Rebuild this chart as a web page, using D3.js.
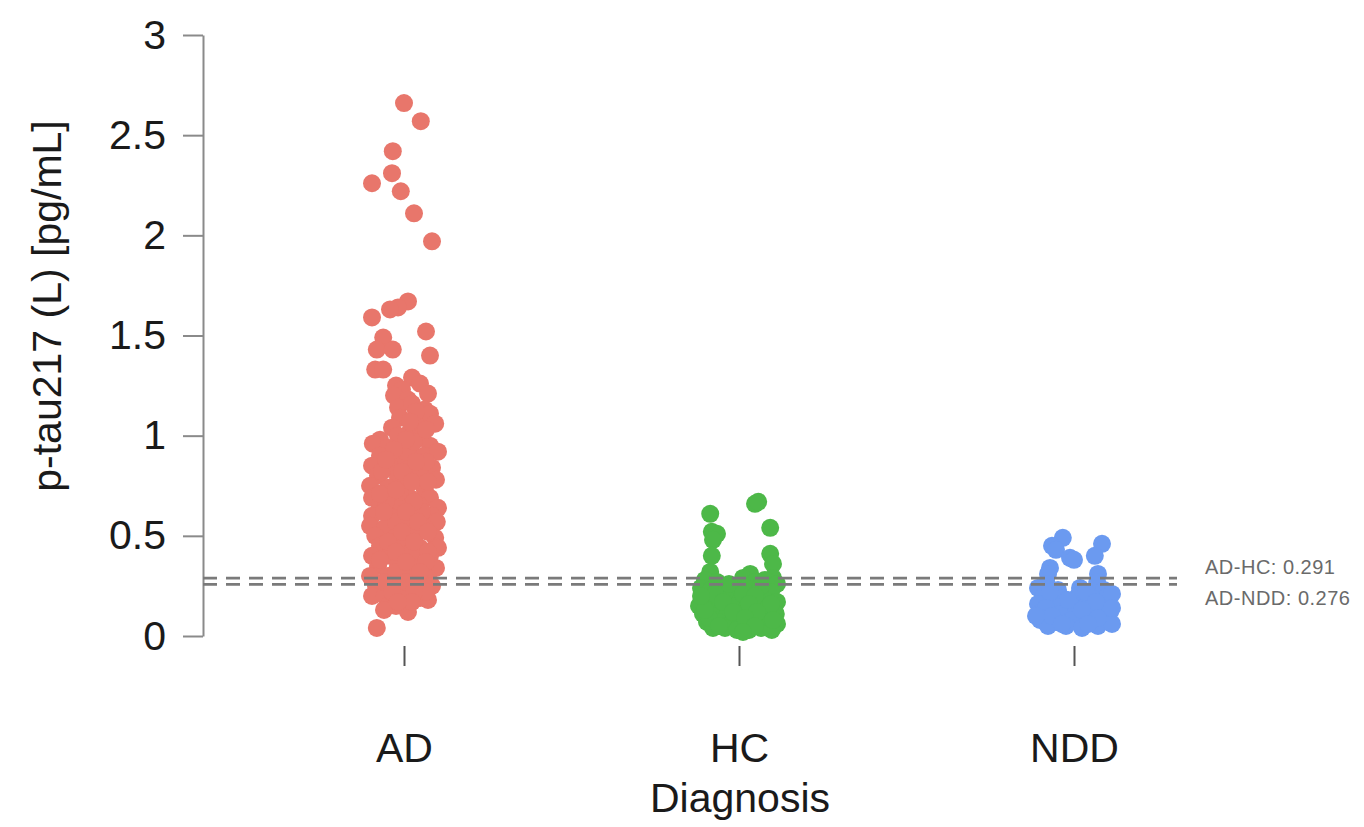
<!DOCTYPE html>
<html>
<head>
<meta charset="utf-8">
<script src="https://cdn.jsdelivr.net/npm/d3@7"></script>
<style>
  body { margin: 0; background: #fff; }
  text { font-family: "Liberation Sans", Arial, sans-serif; }
</style>
</head>
<body>
<div id="chart"></div>
<script>
// p-tau217 by diagnosis, jittered strip chart with two cutoff lines

const categories = ["AD", "HC", "NDD"];
const yTicks = [0, 0.5, 1, 1.5, 2, 2.5, 3];
const yTickLabels = ["0", "0.5", "1", "1.5", "2", "2.5", "3"];

// measured values and horizontal jitter (-1..1 of the strip half width)
const adValues = [2.66, 2.57, 2.42, 2.31, 2.26, 2.22, 2.11, 1.97, 1.67, 1.64, 1.63, 1.59, 1.52, 1.49, 1.43, 1.43, 1.40,
    1.33, 1.33, 1.29, 1.25, 1.23, 1.26, 1.20, 1.18, 1.21, 1.14, 1.16, 1.13, 1.09, 1.08, 1.11, 1.06, 1.04, 1.02, 1.00,
    0.98, 0.99, 0.96, 0.94, 0.94, 0.95, 0.90, 0.89, 0.90, 0.92, 0.85, 0.84, 0.85, 0.84, 0.80, 0.79, 0.80, 0.78,
    0.75, 0.74, 0.75, 0.73, 0.69, 0.70, 0.69, 0.69, 0.65, 0.64, 0.65, 0.64, 0.60, 0.59, 0.60, 0.60, 0.57,
    0.55, 0.54, 0.55, 0.54, 0.50, 0.49, 0.50, 0.49, 0.45, 0.45, 0.44, 0.44, 0.40, 0.40, 0.39, 0.40,
    0.35, 0.35, 0.35, 0.34, 0.30, 0.30, 0.30, 0.29, 0.25, 0.25, 0.24, 0.25, 0.20, 0.20, 0.21, 0.19,
    0.16, 0.15, 0.15, 0.12, 0.13, 0.18, 0.04,
    0.92, 0.82, 0.72, 0.62, 0.47, 0.38, 0.28, 0.22, 1.12, 0.97, 0.87, 0.67, 0.57, 0.42, 0.32,
    0.98, 0.93, 0.87, 0.82, 0.77, 0.77, 0.71, 0.67, 0.62, 0.62, 0.57, 0.52, 0.52, 0.47, 0.47,
    0.42, 0.42, 0.37, 0.37, 0.32, 0.27, 0.27, 0.22, 0.22, 0.17, 0.17, 1.07, 1.03, 0.88, 0.73];
const adJitter = [0.00, 0.42, -0.28, -0.30, -0.80, -0.08, 0.25, 0.70, 0.10, -0.15, -0.35, -0.80, 0.55, -0.52, -0.68, -0.28, 0.65,
    -0.72, -0.52, 0.20, -0.20, -0.05, 0.40, -0.25, 0.10, 0.60, -0.15, 0.20, 0.52, -0.10, 0.40, 0.65, 0.78, -0.30, 0.15, -0.15,
    -0.60, 0.40, -0.78, -0.40, 0.15, 0.65, -0.60, -0.10, 0.50, 0.85, -0.80, -0.35, 0.20, 0.70, -0.65, -0.15, 0.40, 0.80,
    -0.85, -0.40, 0.02, 0.52, -0.80, -0.30, 0.15, 0.65, -0.60, -0.10, 0.40, 0.85, -0.80, -0.30, 0.22, 0.70, 0.82,
    -0.85, -0.48, 0.02, 0.52, -0.72, -0.22, 0.28, 0.78, -0.60, -0.10, 0.40, 0.85, -0.80, -0.35, 0.15, 0.65,
    -0.65, -0.15, 0.35, 0.80, -0.85, -0.40, 0.10, 0.60, -0.70, -0.22, 0.22, 0.70, -0.80, -0.48, -0.05, 0.40,
    -0.35, 0.02, -0.20, 0.10, -0.50, 0.60, -0.68,
    0.05, -0.05, -0.10, 0.45, 0.05, -0.60, 0.35, 0.55, 0.30, 0.25, 0.55, -0.45, -0.20, 0.20, -0.20,
    0.05, -0.25, 0.30, -0.55, 0.20, 0.60, -0.60, 0.25, -0.50, 0.05, 0.35, -0.05, 0.60, -0.40, 0.25,
    -0.20, 0.60, 0.05, 0.55, 0.40, -0.50, 0.05, -0.30, 0.25, 0.20, -0.15, 0.15, 0.55, -0.45, -0.20];

const hcValues = [0.66, 0.67, 0.61, 0.54, 0.52, 0.51, 0.48, 0.40, 0.41, 0.36, 0.32, 0.31, 0.29,
    0.28, 0.27, 0.29, 0.27, 0.28, 0.26, 0.24, 0.23, 0.22, 0.23, 0.24, 0.22, 0.22,
    0.19, 0.18, 0.19, 0.18, 0.19, 0.18, 0.17, 0.15, 0.14, 0.14, 0.15, 0.14, 0.13, 0.14,
    0.11, 0.10, 0.10, 0.11, 0.10, 0.10, 0.11, 0.07, 0.07, 0.06, 0.07, 0.06, 0.07, 0.06,
    0.04, 0.04, 0.03, 0.03, 0.04, 0.03,
    0.26, 0.25, 0.21, 0.21, 0.20, 0.17, 0.16, 0.16, 0.12, 0.12, 0.09, 0.09, 0.08, 0.05, 0.05, 0.02,
    0.13, 0.20];
const hcJitter = [0.40, 0.48, -0.72, 0.78, -0.68, -0.55, -0.65, -0.68, 0.78, 0.85, -0.72, 0.28, 0.85,
    -0.85, -0.55, 0.10, 0.40, 0.65, 0.95, -0.95, -0.70, -0.40, -0.10, 0.20, 0.50, 0.80,
    -0.85, -0.55, -0.25, 0.05, 0.35, 0.65, 0.95, -1.00, -0.70, -0.40, -0.10, 0.20, 0.50, 0.80,
    -0.90, -0.60, -0.30, 0.00, 0.30, 0.60, 0.92, -0.80, -0.50, -0.20, 0.10, 0.40, 0.70, 0.95,
    -0.65, -0.35, -0.05, 0.25, 0.55, 0.82,
    -0.25, 0.55, -0.60, 0.10, 0.40, -0.40, 0.25, 0.80, -0.15, 0.45, -0.75, 0.15, 0.85, -0.50, 0.40, 0.10,
    -0.85, -0.95];

const nddValues = [0.49, 0.46, 0.45, 0.43, 0.39, 0.40, 0.38, 0.34, 0.31, 0.31, 0.27, 0.26,
    0.24, 0.23, 0.24, 0.23, 0.20, 0.19, 0.20, 0.19, 0.20, 0.16, 0.15, 0.16, 0.15, 0.16,
    0.12, 0.11, 0.12, 0.11, 0.12, 0.08, 0.07, 0.08, 0.07, 0.08, 0.05, 0.05, 0.04, 0.05, 0.06,
    0.22, 0.22, 0.18, 0.17, 0.14, 0.13, 0.10, 0.09, 0.06, 0.06, 0.21, 0.14, 0.10];
const nddJitter = [-0.28, 0.70, -0.55, -0.45, -0.10, 0.52, 0.00, -0.60, -0.65, 0.60, 0.58, -0.68,
    -0.90, -0.40, 0.15, 0.75, -0.75, -0.30, 0.10, 0.45, 0.85, -0.90, -0.50, -0.10, 0.30, 0.70,
    -0.80, -0.35, 0.05, 0.45, 0.90, -0.85, -0.45, -0.05, 0.35, 0.75, -0.65, -0.20, 0.20, 0.60, 0.95,
    -0.60, 0.30, -0.15, 0.55, -0.70, 0.20, -0.55, 0.60, -0.30, 0.35, 0.95, 0.95, -0.95];

// cutoff lines as drawn, and their legend text
const cutoffLines = [0.289, 0.258];
const cutoffLabels = ["AD-HC: 0.291", "AD-NDD: 0.276"];

const colors = { AD: "#e8766b", HC: "#4db848", NDD: "#6b9af0" };

const points = [];
[[adValues, adJitter, "AD"], [hcValues, hcJitter, "HC"], [nddValues, nddJitter, "NDD"]].forEach(function(g) {
    g[0].forEach(function(v, i) {
        points.push({ group: g[2], value: v, jitter: g[1][i] });
    });
});

const width = 1364, height = 827;

const svg = d3.select("#chart").append("svg")
    .attr("width", width)
    .attr("height", height);

const x = d3.scalePoint().domain(categories).range([404, 1074]);
const jit = d3.scaleLinear().domain([-1, 1]).range([-40, 40]);
const y = d3.scaleLinear().domain([0, 3]).range([636, 35]);

// y axis, R style: line only between first and last tick
const yAxis = svg.append("g")
    .attr("transform", "translate(203,0)")
    .call(d3.axisLeft(y)
        .tickValues(yTicks)
        .tickFormat(function(d, i) { return yTickLabels[i]; })
        .tickSizeInner(20)
        .tickSizeOuter(0)
        .tickPadding(17));
yAxis.select(".domain").attr("stroke", "#8a8a8a").attr("stroke-width", 2);
yAxis.selectAll(".tick line").attr("stroke", "#8a8a8a").attr("stroke-width", 2);
yAxis.selectAll(".tick text")
    .attr("font-size", 41)
    .attr("fill", "#1a1a1a")
    .style("font-family", "'Liberation Sans', Arial, sans-serif");

// x axis: tick marks only
const xAxis = svg.append("g")
    .attr("transform", "translate(0,666)")
    .call(d3.axisBottom(x)
        .tickSizeInner(-20)
        .tickSizeOuter(0)
        .tickPadding(0));
xAxis.select(".domain").remove();
xAxis.selectAll(".tick line").attr("stroke", "#555").attr("stroke-width", 2);
xAxis.selectAll(".tick text")
    .attr("y", 96)
    .attr("dy", 0)
    .attr("font-size", 41)
    .attr("fill", "#1a1a1a")
    .style("font-family", "'Liberation Sans', Arial, sans-serif");

// points
svg.append("g").selectAll("circle")
    .data(points)
    .enter().append("circle")
    .attr("cx", function(d) { return x(d.group) + jit(d.jitter); })
    .attr("cy", function(d) { return y(d.value); })
    .attr("r", 9)
    .attr("fill", function(d) { return colors[d.group]; });

// cutoff lines on top of the points
svg.append("g").selectAll("line")
    .data(cutoffLines)
    .enter().append("line")
    .attr("x1", 203)
    .attr("x2", 1177)
    .attr("y1", function(d) { return y(d); })
    .attr("y2", function(d) { return y(d); })
    .attr("stroke", "#7a7a7a")
    .attr("stroke-width", 2.8)
    .attr("stroke-dasharray", "14,9");

svg.append("g").selectAll("text")
    .data(cutoffLabels)
    .enter().append("text")
    .attr("x", 1205)
    .attr("y", function(d, i) { return 574 + i * 31; })
    .attr("font-size", 20)
    .attr("letter-spacing", 0.5)
    .attr("fill", "#6a6a6a")
    .text(function(d) { return d; });

// axis titles
svg.append("text")
    .attr("x", 740)
    .attr("y", 812)
    .attr("text-anchor", "middle")
    .attr("font-size", 41)
    .attr("fill", "#1a1a1a")
    .text("Diagnosis");

svg.append("text")
    .attr("transform", "translate(61,306) rotate(-90)")
    .attr("text-anchor", "middle")
    .attr("font-size", 41)
    .attr("fill", "#1a1a1a")
    .text("p-tau217 (L) [pg/mL]");
</script>
</body>
</html>
